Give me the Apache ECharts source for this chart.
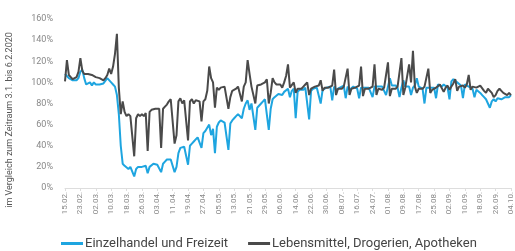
<!DOCTYPE html>
<html>
<head>
<meta charset="utf-8">
<script src="https://cdn.jsdelivr.net/npm/echarts@6/dist/echarts.min.js"></script>
<style>
html, body { margin: 0; padding: 0; background: #fff; }
#chart { width: 515px; height: 251px; }
</style>
</head>
<body>
<div id="chart"></div>
<script>
// Tageswerte ab 15.02.2020, 100% = Zeitraum 3.1. bis 6.2.2020
const firstDay = '2020-02-15'
const dayCount = 233

const einzelhandel = [
  108,106,104,103,102,101,102,
  104,110,112,104,98,99,100,
  97,100,98,99,98,97,99,
  100,104,103,100,98,96,88,
  70,40,23,21,20,18,20,
  20,11,18,20,21,20,20,
  21,14,20,21,23,22,22,
  22,15,23,25,27,26,27,
  28,15,20,33,38,37,39,
  38,22,40,42,44,46,48,
  48,38,52,54,57,60,50,
  56,33,58,62,64,63,62,
  62,36,61,64,66,68,70,
  71,66,75,80,83,74,80,
  80,55,76,77,80,82,84,
  85,55,75,84,86,87,89,
  90,88,91,92,94,86,92,
  94,66,91,93,94,93,95,
  95,65,92,94,93,95,95,
  80,93,94,95,96,96,83,
  96,93,94,95,96,97,85,
  96,93,94,96,95,94,85,
  95,94,95,96,95,94,86,
  96,95,96,97,96,95,88,
  96,104,97,96,97,95,86,
  95,102,96,95,96,88,95,
  97,104,96,95,94,80,95,
  94,95,96,95,85,98,97,
  96,98,97,95,84,101,103,
  102,100,99,97,85,98,97,
  96,95,94,86,93,92,90,
  88,86,84,80,76,82,84,
  82,85,86,84,85,86,85,
  86,88
]

const lebensmittel = [
  101,121,107,105,103,102,105,
  110,123,111,108,108,108,107,
  107,106,105,105,104,103,102,
  104,107,113,108,115,127,146,
  95,70,82,72,68,70,68,
  67,30,66,70,68,70,68,
  71,35,72,74,73,75,74,
  75,38,75,77,79,82,84,
  85,42,50,82,85,80,83,
  82,45,82,84,80,83,82,
  82,63,82,84,92,115,104,
  100,76,95,93,95,94,96,
  95,75,86,92,93,94,96,
  97,82,96,100,121,108,96,
  97,80,97,96,98,97,100,
  103,80,90,104,100,98,98,
  98,95,100,106,117,95,96,
  100,90,94,95,94,96,98,
  100,88,94,95,96,95,97,
  102,92,95,96,95,96,97,
  112,88,94,95,94,96,97,
  113,88,94,94,95,96,97,
  115,87,94,95,94,95,96,
  117,88,94,95,93,95,96,
  119,87,94,95,94,96,97,
  123,88,95,96,117,100,130,
  96,90,94,95,94,96,97,
  113,90,93,94,95,96,98,
  98,91,95,97,93,96,99,
  103,92,96,95,97,95,98,
  107,93,96,97,95,96,97,
  98,92,90,94,93,90,86,
  88,92,94,92,90,89,88,
  90,88
]

const seriesNames = ['Einzelhandel und Freizeit', 'Lebensmittel, Drogerien, Apotheken']
const yTicks = [0, 20, 40, 60, 80, 100, 120, 140, 160]

// Kategorien: ein Eintrag pro Tag, Beschriftung "dd.mm."
const dates = []
for (let i = 0; i < dayCount; i++) {
  const d = new Date(firstDay + 'T12:00:00')
  d.setDate(d.getDate() + i)
  const dd = String(d.getDate()).padStart(2, '0')
  const mm = String(d.getMonth() + 1).padStart(2, '0')
  dates.push(dd + '.' + mm + '.')
}

const chart = echarts.init(document.getElementById('chart'))

chart.setOption({
  animation: false,
  textStyle: { fontFamily: 'Roboto' },
  grid: { left: 65, right: 3, top: 19, bottom: 63 },
  graphic: [{
    type: 'text',
    x: 10,
    y: 120,
    rotation: Math.PI / 2,
    style: {
      text: 'im Vergleich zum Zeitraum 3.1. bis 6.2.2020',
      font: '9px Roboto',
      fill: '#555',
      align: 'center',
      verticalAlign: 'middle'
    }
  }],
  legend: {
    data: seriesNames,
    left: 56,
    top: 232,
    icon: 'rect',
    itemWidth: 22,
    itemHeight: 3,
    itemGap: 20,
    textStyle: { fontSize: 13, color: '#444', padding: [0, 0, 0, -3] }
  },
  xAxis: {
    type: 'category',
    data: dates,
    boundaryGap: false,
    axisLine: { lineStyle: { color: '#ddd' } },
    axisTick: { show: true, interval: 7, length: 3, lineStyle: { color: '#ddd' } },
    axisLabel: { interval: 7, rotate: 90, fontSize: 8, color: '#888', margin: 4 }
  },
  yAxis: {
    type: 'value',
    min: yTicks[0],
    max: yTicks[yTicks.length - 1],
    interval: 20,
    axisLine: { show: false },
    axisTick: { show: false },
    splitLine: { show: false },
    axisLabel: { formatter: '{value}%', fontSize: 9, color: '#888', margin: 12 }
  },
  series: [
    {
      name: seriesNames[0],
      type: 'line',
      data: einzelhandel,
      showSymbol: false,
      symbol: 'none',
      itemStyle: { color: '#1ea5e0' },
      lineStyle: { width: 2, color: '#1ea5e0' }
    },
    {
      name: seriesNames[1],
      type: 'line',
      data: lebensmittel,
      showSymbol: false,
      symbol: 'none',
      itemStyle: { color: '#4a4a4a' },
      lineStyle: { width: 2, color: '#4a4a4a' }
    }
  ]
})
</script>
</body>
</html>
